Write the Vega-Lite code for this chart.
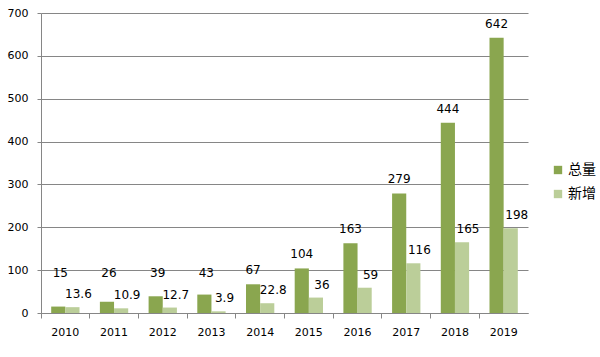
{
  "$schema": "https://vega.github.io/schema/vega-lite/v6.json",
  "width": 487,
  "height": 300,
  "autosize": {"type": "none"},
  "padding": {"left": 41, "top": 13, "right": 72, "bottom": 44},
  "background": "white",
  "config": {
    "view": {"stroke": null},
    "font": "DejaVu Sans"
  },
  "data": {
    "values": [
      {"year": "2010", "series": "总量", "value": 15},
      {"year": "2011", "series": "总量", "value": 26},
      {"year": "2012", "series": "总量", "value": 39},
      {"year": "2013", "series": "总量", "value": 43},
      {"year": "2014", "series": "总量", "value": 67},
      {"year": "2015", "series": "总量", "value": 104},
      {"year": "2016", "series": "总量", "value": 163},
      {"year": "2017", "series": "总量", "value": 279},
      {"year": "2018", "series": "总量", "value": 444},
      {"year": "2019", "series": "总量", "value": 642},
      {"year": "2010", "series": "新增", "value": 13.6},
      {"year": "2011", "series": "新增", "value": 10.9},
      {"year": "2012", "series": "新增", "value": 12.7},
      {"year": "2013", "series": "新增", "value": 3.9},
      {"year": "2014", "series": "新增", "value": 22.8},
      {"year": "2015", "series": "新增", "value": 36},
      {"year": "2016", "series": "新增", "value": 59},
      {"year": "2017", "series": "新增", "value": 116},
      {"year": "2018", "series": "新增", "value": 165},
      {"year": "2019", "series": "新增", "value": 198}
    ]
  },
  "encoding": {
    "x": {
      "field": "year",
      "type": "nominal",
      "scale": {"paddingInner": 0, "paddingOuter": 0},
      "axis": {
        "title": null,
        "labelAngle": 0,
        "bandPosition": 0,
        "labelFontSize": 11,
        "labelColor": "#000000",
        "labelPadding": 8,
        "tickSize": 5,
        "tickColor": "#868686",
        "domainColor": "#868686",
        "grid": false
      }
    },
    "xOffset": {
      "field": "series",
      "type": "nominal",
      "sort": ["总量", "新增"],
      "scale": {"paddingInner": 0, "paddingOuter": 0.72}
    },
    "y": {
      "field": "value",
      "type": "quantitative",
      "scale": {"domain": [0, 700], "nice": false},
      "axis": {
        "title": null,
        "values": [0, 100, 200, 300, 400, 500, 600, 700],
        "labelFontSize": 11,
        "labelColor": "#000000",
        "labelPadding": 9,
        "tickSize": 4,
        "tickColor": "#868686",
        "domainColor": "#868686",
        "gridColor": "#868686",
        "grid": true
      }
    }
  },
  "layer": [
    {
      "mark": {"type": "bar"},
      "encoding": {
        "color": {
          "field": "series",
          "type": "nominal",
          "sort": ["总量", "新增"],
          "scale": {"domain": ["总量", "新增"], "range": ["#8AA64F", "#BBCE99"]},
          "legend": {
            "title": null,
            "orient": "none",
            "legendX": 510,
            "legendY": 150,
            "symbolType": "square",
            "symbolSize": 70,
            "symbolStrokeWidth": 0,
            "labelFont": "Noto Sans CJK SC",
            "labelFontSize": 14,
            "labelColor": "#000000",
            "labelOffset": 3,
            "rowPadding": 10
          }
        }
      }
    },
    {
      "transform": [{"filter": "datum.series === '总量' && datum.value >= 50"}],
      "mark": {"type": "text", "dy": -14, "fontSize": 12, "color": "#000000"},
      "encoding": {"text": {"field": "value", "type": "quantitative"}}
    },
    {
      "transform": [{"filter": "datum.series === '总量' && datum.value < 50"}],
      "mark": {"type": "text", "dx": 2, "fontSize": 12, "color": "#000000"},
      "encoding": {
        "y": {"datum": 93, "type": "quantitative"},
        "text": {"field": "value", "type": "quantitative"}
      }
    },
    {
      "transform": [{"filter": "datum.series === '新增'"}],
      "mark": {"type": "text", "dy": -13, "dx": 6, "fontSize": 12, "color": "#000000"},
      "encoding": {"text": {"field": "value", "type": "quantitative"}}
    }
  ]
}
